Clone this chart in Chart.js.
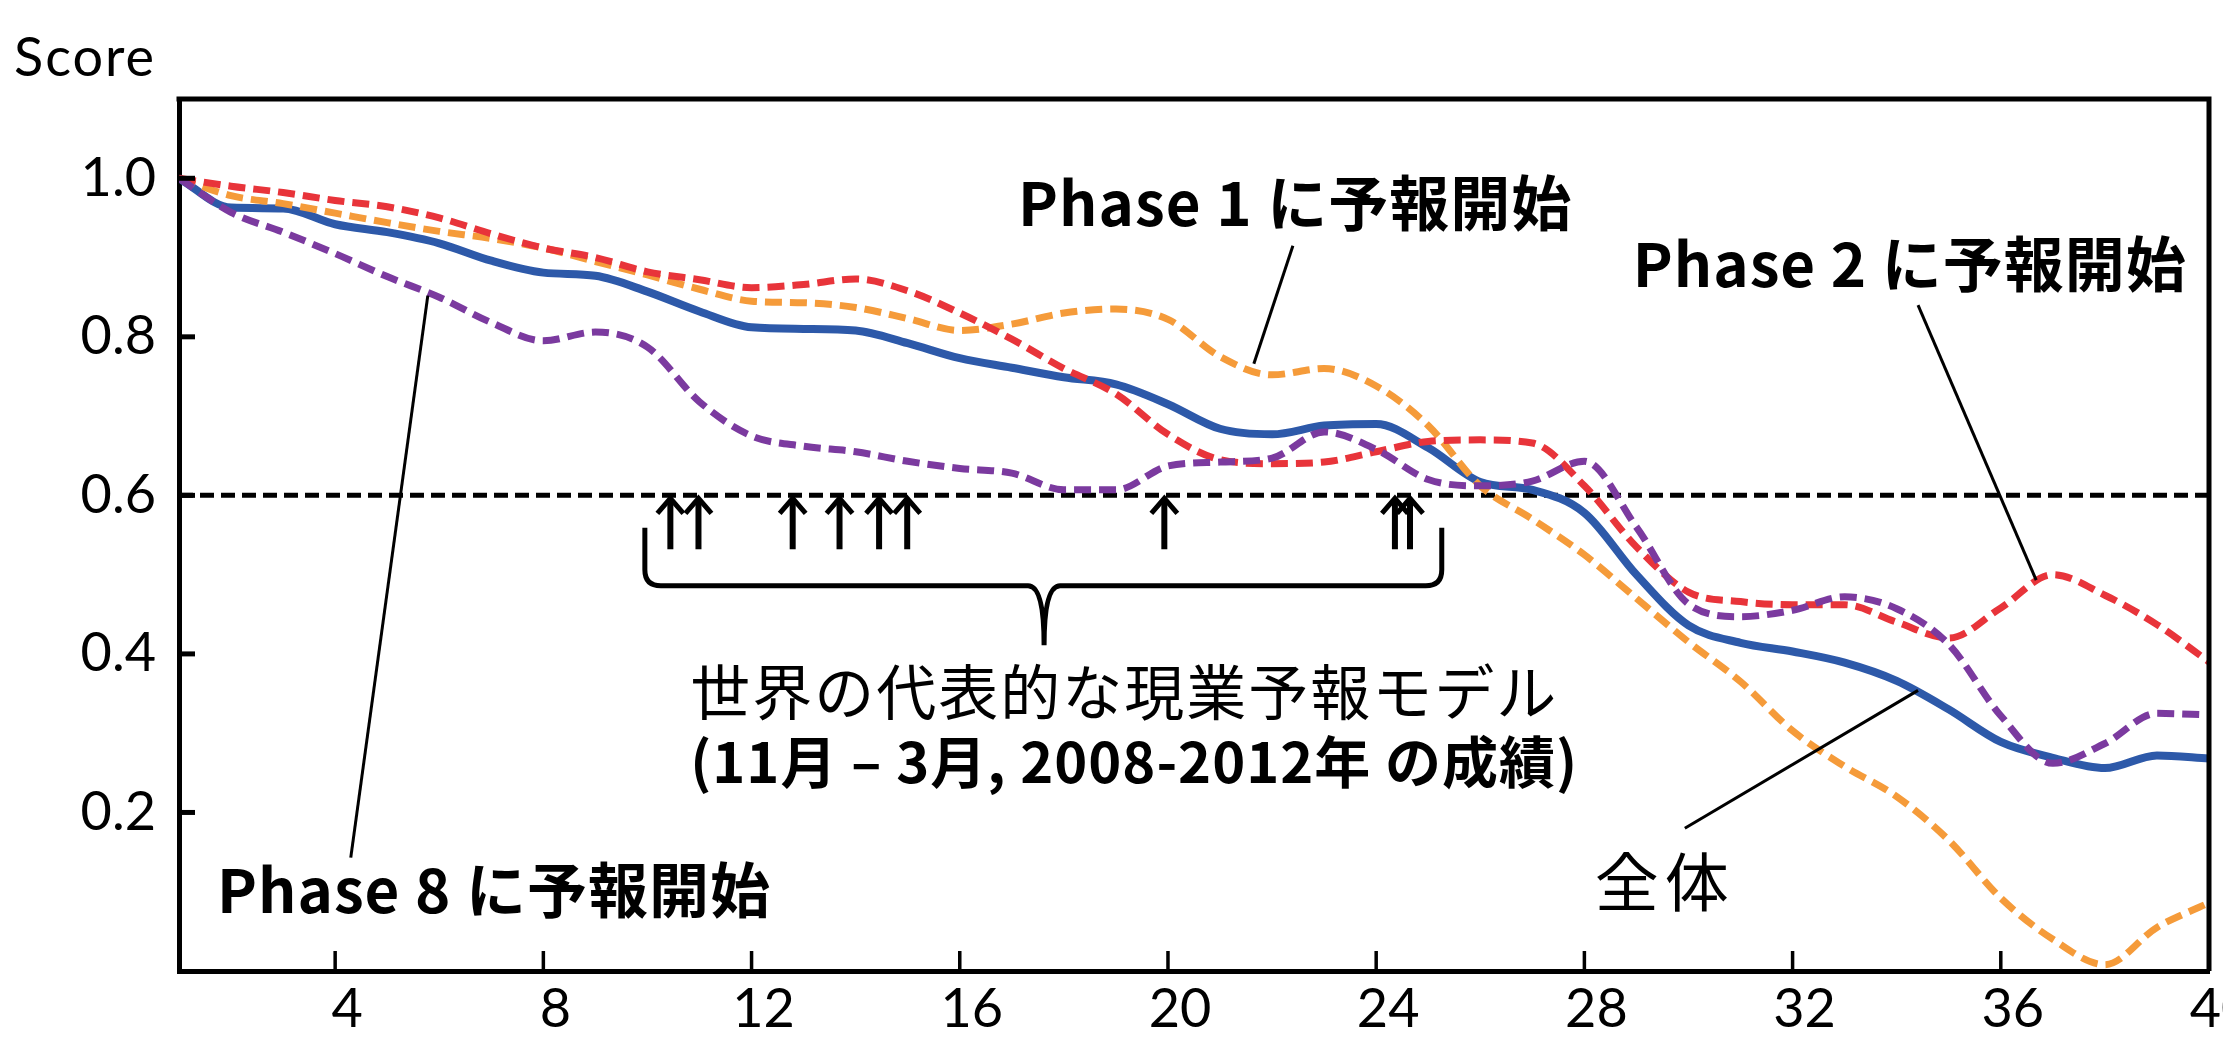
<!DOCTYPE html>
<html>
<head>
<meta charset="utf-8">
<title>Score</title>
<script src="https://cdn.jsdelivr.net/npm/chart.js@4.4.0/dist/chart.umd.min.js"></script>
<style>
  html, body { margin: 0; padding: 0; background: #fff; overflow: hidden; }
  #wrap { width: 2223px; height: 1058px; }
</style>
</head>
<body>
<div id="wrap"><canvas id="scoreChart" width="2223" height="1058"></canvas></div>
<script>
// Lead time (days)
const leadDays = [1, 2, 3, 4, 5, 6, 7, 8, 9, 10, 11, 12, 13, 14, 15, 16, 17, 18, 19, 20,
                  21, 22, 23, 24, 25, 26, 27, 28, 29, 30, 31, 32, 33, 34, 35, 36, 37, 38, 39, 40];

// 全体 (all start phases)
const allScore = [1.00, 0.963, 0.962, 0.942, 0.932, 0.918, 0.896, 0.881, 0.877, 0.857,
                  0.832, 0.812, 0.810, 0.808, 0.792, 0.773, 0.761, 0.749, 0.740, 0.715,
                  0.684, 0.677, 0.688, 0.690, 0.660, 0.617, 0.607, 0.578, 0.500, 0.436,
                  0.414, 0.403, 0.389, 0.366, 0.330, 0.289, 0.269, 0.256, 0.272, 0.268];

// forecasts started in Phase 1
const phase1Score = [1.00, 0.978, 0.968, 0.956, 0.944, 0.933, 0.924, 0.912, 0.895, 0.878,
                     0.860, 0.845, 0.843, 0.837, 0.823, 0.808, 0.816, 0.830, 0.835, 0.822,
                     0.775, 0.752, 0.760, 0.738, 0.688, 0.612, 0.570, 0.525, 0.470, 0.415,
                     0.365, 0.303, 0.258, 0.220, 0.165, 0.092, 0.040, 0.008, 0.055, 0.086];

// forecasts started in Phase 2
const phase2Score = [1.00, 0.990, 0.982, 0.972, 0.964, 0.950, 0.930, 0.912, 0.900, 0.882,
                     0.872, 0.862, 0.866, 0.873, 0.858, 0.830, 0.797, 0.760, 0.728, 0.677,
                     0.645, 0.640, 0.642, 0.655, 0.668, 0.670, 0.666, 0.612, 0.535, 0.478,
                     0.466, 0.462, 0.462, 0.440, 0.420, 0.458, 0.500, 0.474, 0.437, 0.390];

// forecasts started in Phase 8
const phase8Score = [1.00, 0.957, 0.932, 0.905, 0.876, 0.850, 0.818, 0.795, 0.806, 0.787,
                     0.718, 0.675, 0.662, 0.655, 0.643, 0.634, 0.628, 0.607, 0.607, 0.637,
                     0.642, 0.647, 0.680, 0.658, 0.620, 0.612, 0.618, 0.643, 0.560, 0.463,
                     0.447, 0.455, 0.472, 0.457, 0.412, 0.322, 0.262, 0.287, 0.325, 0.323];

// skill threshold and lead days where operational models reach it
const threshold = 0.6;
const modelLeadDays = [10.44, 10.98, 12.79, 13.69, 14.45, 14.99, 19.93, 24.36, 24.65];

// tick labels
const xTicks = [4, 8, 12, 16, 20, 24, 28, 32, 36, 40];
const yTicks = [0.2, 0.4, 0.6, 0.8, 1.0];

const toPoints = values => leadDays.map((d, i) => ({ x: d, y: values[i] }));

// Text, leader lines, brace, arrows, frame and inward tick marks
const annotationPlugin = {
    id: 'annotations',
    afterDraw(chart) {
        const { ctx, chartArea: area } = chart;
        const xs = chart.scales.x;
        const ys = chart.scales.y;
        const px = v => xs.getPixelForValue(v);
        const py = v => ys.getPixelForValue(v);

        ctx.save();
        ctx.strokeStyle = '#000';
        ctx.fillStyle = '#000';
        ctx.lineCap = 'butt';

        // top and right edges of the frame
        ctx.lineWidth = 5;
        ctx.beginPath();
        ctx.moveTo(area.left - 2.5, area.top);
        ctx.lineTo(area.right, area.top);
        ctx.lineTo(area.right, area.bottom);
        ctx.stroke();

        // tick marks drawn inside the plot
        ys.ticks.forEach(t => {
            const y = py(t.value);
            ctx.beginPath();
            ctx.moveTo(area.left, y);
            ctx.lineTo(area.left + 16, y);
            ctx.stroke();
        });
        ctx.lineWidth = 3.5;
        xs.ticks.forEach(t => {
            const x = px(t.value);
            ctx.beginPath();
            ctx.moveTo(x, area.bottom);
            ctx.lineTo(x, area.bottom - 20);
            ctx.stroke();
        });

        // arrows for the operational models
        modelLeadDays.forEach(d => {
            const x = px(d);
            const top = py(threshold) + 1;
            ctx.lineWidth = 6;
            ctx.beginPath();
            ctx.moveTo(x, py(0.532));
            ctx.lineTo(x, top + 4);
            ctx.stroke();
            ctx.lineWidth = 5;
            ctx.beginPath();
            ctx.moveTo(x - 13, top + 17);
            ctx.lineTo(x, top + 2);
            ctx.lineTo(x + 13, top + 17);
            ctx.stroke();
        });

        // brace under the arrows
        const bl = px(9.95), br = px(25.26), bc = px(17.62);
        const bt = py(0.559), bm = py(0.486), tip = py(0.411);
        const r = 16;
        ctx.lineWidth = 5;
        ctx.beginPath();
        ctx.moveTo(bl, bt);
        ctx.lineTo(bl, bm - r);
        ctx.quadraticCurveTo(bl, bm, bl + r, bm);
        ctx.lineTo(bc - r, bm);
        ctx.quadraticCurveTo(bc, bm, bc, tip);
        ctx.moveTo(bc, tip);
        ctx.quadraticCurveTo(bc, bm, bc + r, bm);
        ctx.lineTo(br - r, bm);
        ctx.quadraticCurveTo(br, bm, br, bm - r);
        ctx.lineTo(br, bt);
        ctx.stroke();

        // leader lines
        const leaders = [
            [22.40, 0.915, 21.65, 0.766],
            [34.41, 0.840, 36.68, 0.493],
            [5.78, 0.852, 4.30, 0.143],
            [34.41, 0.354, 29.93, 0.180]
        ];
        ctx.lineWidth = 3;
        leaders.forEach(([x1, y1, x2, y2]) => {
            ctx.beginPath();
            ctx.moveTo(px(x1), py(y1));
            ctx.lineTo(px(x2), py(y2));
            ctx.stroke();
        });

        // texts
        const jp = '"Noto Sans CJK JP", "Noto Sans", sans-serif';
        ctx.textAlign = 'left';
        ctx.textBaseline = 'middle';
        const texts = [
            ['Phase 1 に予報開始', 17.12, 0.968, 'bold 60px ' + jp, '1px'],
            ['Phase 2 に予報開始', 28.93, 0.891, 'bold 60px ' + jp, '1px'],
            ['Phase 8 に予報開始', 1.73, 0.102, 'bold 60px ' + jp, '1px'],
            ['全体', 28.20, 0.113, '64px ' + jp, '6px'],
            ['世界の代表的な現業予報モデル', 10.82, 0.352, '60px ' + jp, '2px'],
            ['(11月 – 3月, 2008-2012年 の成績)', 10.82, 0.264, 'bold 56px ' + jp, '1px']
        ];
        texts.forEach(([s, xv, yv, font, spacing]) => {
            ctx.font = font;
            ctx.letterSpacing = spacing;
            ctx.fillText(s, px(xv), py(yv));
        });

        // axis caption at the top left
        ctx.letterSpacing = '2px';
        ctx.font = '54px Lato, "Open Sans", sans-serif';
        ctx.fillText('Score', 14, 59);
        ctx.restore();
    }
};

function createScoreChart() {
    const ctx = document.getElementById('scoreChart').getContext('2d');
    const tickFont = { family: 'Lato, "Open Sans", sans-serif', size: 54 };

    new Chart(ctx, {
        type: 'line',
        data: {
            datasets: [
                {
                    label: 'Phase 8 に予報開始',
                    data: toPoints(phase8Score),
                    borderColor: '#7b3a9f',
                    borderWidth: 7,
                    borderDash: [17, 8],
                    order: 1
                },
                {
                    label: 'Phase 2 に予報開始',
                    data: toPoints(phase2Score),
                    borderColor: '#e8343a',
                    borderWidth: 7,
                    borderDash: [17, 8],
                    order: 2
                },
                {
                    label: 'Phase 1 に予報開始',
                    data: toPoints(phase1Score),
                    borderColor: '#f59b3a',
                    borderWidth: 7,
                    borderDash: [17, 8],
                    order: 3
                },
                {
                    label: '全体',
                    data: toPoints(allScore),
                    borderColor: '#2d59a9',
                    borderWidth: 8,
                    order: 4
                },
                {
                    label: 'threshold',
                    data: [{ x: leadDays[0], y: threshold }, { x: leadDays[leadDays.length - 1], y: threshold }],
                    borderColor: '#000',
                    borderWidth: 5,
                    borderDash: [14, 7],
                    tension: 0,
                    order: 5
                }
            ]
        },
        options: {
            responsive: false,
            animation: false,
            devicePixelRatio: 1,
            layout: { padding: { top: 99, right: 14, left: 0, bottom: 0 } },
            elements: {
                point: { radius: 0 },
                line: { tension: 0.35, cubicInterpolationMode: 'monotone', fill: false }
            },
            plugins: {
                legend: { display: false },
                tooltip: { enabled: false }
            },
            scales: {
                x: {
                    type: 'linear',
                    min: 1,
                    max: 40,
                    afterBuildTicks: axis => { axis.ticks = xTicks.map(v => ({ value: v })); },
                    afterFit: axis => { axis.height = 87; axis.paddingLeft = 0; axis.paddingRight = 0; },
                    ticks: { font: tickFont, color: '#000', padding: 6, labelOffset: 12, maxRotation: 0, autoSkip: false },
                    grid: { display: false, drawTicks: false },
                    border: { color: '#000', width: 5 }
                },
                y: {
                    type: 'linear',
                    min: 0,
                    max: 1.1,
                    afterBuildTicks: axis => { axis.ticks = yTicks.map(v => ({ value: v })); },
                    afterFit: axis => { axis.width = 179; axis.paddingTop = 0; axis.paddingBottom = 0; },
                    ticks: { font: tickFont, color: '#000', padding: 23, callback: v => v.toFixed(1) },
                    grid: { display: false, drawTicks: false },
                    border: { color: '#000', width: 5 }
                }
            }
        },
        plugins: [annotationPlugin]
    });
}

window.onload = function() {
    createScoreChart();
};
</script>
</body>
</html>
